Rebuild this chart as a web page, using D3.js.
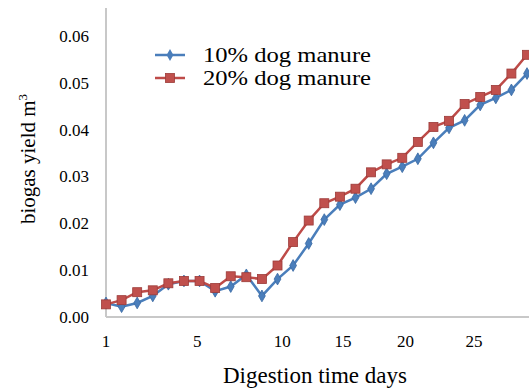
<!DOCTYPE html>
<html>
<head>
<meta charset="utf-8">
<script src="https://cdn.jsdelivr.net/npm/d3@7"></script>
<style>
  body { margin: 0; background: #fff; }
  svg { display: block; }
  text { font-family: "Liberation Serif", "Times New Roman", serif; }
</style>
</head>
<body>
<svg id="chart"></svg>
<script>
// biogas yield (m3) per reading
const dog10 = [0.0030, 0.0022, 0.0030, 0.0045, 0.0070, 0.0077, 0.0077, 0.0055, 0.0065, 0.0090,
  0.0045, 0.0081, 0.0110, 0.0157, 0.0208, 0.0240, 0.0255, 0.0274, 0.0306, 0.0321,
  0.0338, 0.0372, 0.0404, 0.0420, 0.0453, 0.0468, 0.0485, 0.0520];
const dog20 = [0.0027, 0.0036, 0.0053, 0.0057, 0.0072, 0.0077, 0.0077, 0.0062, 0.0087, 0.0085,
  0.0081, 0.0110, 0.0160, 0.0206, 0.0243, 0.0257, 0.0274, 0.0309, 0.0326, 0.0340,
  0.0374, 0.0406, 0.0419, 0.0455, 0.0470, 0.0485, 0.0520, 0.0560];
const seriesNames = ["10% dog manure", "20% dog manure"];
const xTickLabels = [1, 5, 10, 15, 20, 25];
const xTickIndex = [0, 5.85, 11.3, 15.2, 19.2, 23.6];   // where the labels sit, in reading index
const yTicks = [0, 0.01, 0.02, 0.03, 0.04, 0.05, 0.06];

const width = 529, height = 392;
const blue = "#4a7ebb", red = "#be4b48";
const serif = '"Liberation Serif", "Times New Roman", serif';

let svg = d3.select('#chart')
  .attr('width', width)
  .attr('height', height);

let x = d3.scaleLinear().domain([0, dog10.length - 1]).range([106, 527]);
let y = d3.scaleLinear().domain([0, 0.066]).range([317, 8]);

// axis lines
svg.append('line')
  .attr('x1', x(0)).attr('x2', x(0))
  .attr('y1', y(0)).attr('y2', y(0.066))
  .attr('stroke', '#c8c8c8').attr('stroke-width', 2);
svg.append('line')
  .attr('x1', x(0)).attr('x2', width)
  .attr('y1', y(0)).attr('y2', y(0))
  .attr('stroke', '#c8c8c8').attr('stroke-width', 2);

// y tick labels
svg.append('g')
  .selectAll('text')
  .data(yTicks)
  .enter()
  .append('text')
  .attr('x', 89)
  .attr('y', d => y(d))
  .attr('dy', '0.35em')
  .attr('text-anchor', 'end')
  .attr('font-family', serif)
  .attr('font-size', 17)
  .text(d3.format('.2f'));

// x tick labels
svg.append('g')
  .selectAll('text')
  .data(xTickLabels)
  .enter()
  .append('text')
  .attr('x', (d, i) => x(xTickIndex[i]))
  .attr('y', 347)
  .attr('text-anchor', 'middle')
  .attr('font-family', serif)
  .attr('font-size', 17)
  .text(d => d);

// axis titles
svg.append('text')
  .attr('x', 315).attr('y', 383)
  .attr('text-anchor', 'middle')
  .attr('font-family', serif)
  .attr('font-size', 23)
  .text('Digestion time days');

let yTitle = svg.append('text')
  .attr('transform', 'translate(35,159) rotate(-90)')
  .attr('text-anchor', 'middle')
  .attr('font-family', serif)
  .attr('font-size', 21);
yTitle.append('tspan').text('biogas yield m');
yTitle.append('tspan').attr('dy', -8).attr('font-size', 13).text('3');

let line = d3.line()
  .x((d, i) => x(i))
  .y(d => y(d));

// 10% series
svg.append('path')
  .datum(dog10)
  .attr('d', line)
  .attr('fill', 'none')
  .attr('stroke', blue)
  .attr('stroke-width', 2.5);
svg.append('g')
  .selectAll('path')
  .data(dog10)
  .enter()
  .append('path')
  .attr('d', d3.symbol(d3.symbolDiamond, 40))
  .attr('transform', (d, i) => `translate(${x(i)},${y(d)})`)
  .attr('fill', blue)
  .attr('stroke', '#3a6aa3')
  .attr('stroke-width', 0.8);

// 20% series
svg.append('path')
  .datum(dog20)
  .attr('d', line)
  .attr('fill', 'none')
  .attr('stroke', red)
  .attr('stroke-width', 2.5);
svg.append('g')
  .selectAll('rect')
  .data(dog20)
  .enter()
  .append('rect')
  .attr('x', (d, i) => x(i) - 4.5)
  .attr('y', d => y(d) - 4.5)
  .attr('width', 9)
  .attr('height', 9)
  .attr('fill', '#c0504d')
  .attr('stroke', '#9c3b39')
  .attr('stroke-width', 0.8);

// legend
let legend = svg.append('g');
let legendRows = legend.selectAll('g')
  .data(seriesNames)
  .enter()
  .append('g')
  .attr('transform', (d, i) => `translate(0,${55 + i * 23})`);

legendRows.append('line')
  .attr('x1', 155).attr('x2', 185)
  .attr('stroke', (d, i) => i ? red : blue)
  .attr('stroke-width', 2.5);
legendRows.each(function(d, i) {
  let g = d3.select(this);
  if (i) {
    g.append('rect').attr('x', 165.5).attr('y', -4.5).attr('width', 9).attr('height', 9)
      .attr('fill', '#c0504d').attr('stroke', '#9c3b39').attr('stroke-width', 0.8);
  } else {
    g.append('path').attr('d', d3.symbol(d3.symbolDiamond, 40))
      .attr('transform', 'translate(170,0)').attr('fill', blue);
  }
});
legendRows.append('text')
  .attr('x', 203)
  .attr('dy', '0.33em')
  .attr('font-family', serif)
  .attr('font-size', 21)
  .attr('textLength', 168)
  .attr('lengthAdjust', 'spacingAndGlyphs')
  .text(d => d);
</script>
</body>
</html>
